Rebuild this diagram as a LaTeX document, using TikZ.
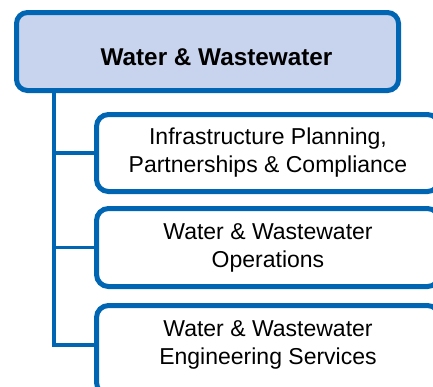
\documentclass[tikz,border=0pt]{standalone}
\usepackage{fontspec}
\setmainfont{Liberation Sans}
\definecolor{bblue}{RGB}{0,102,179}
\definecolor{lblue}{RGB}{200,212,238}
\begin{document}
\begin{tikzpicture}[x=1pt,y=-1pt,
  topbox/.style={draw=bblue,fill=lblue,line width=5pt,rounded corners=11pt,minimum width=382pt,minimum height=78pt,inner sep=0pt},
  childbox/.style={draw=bblue,fill=white,line width=5pt,rounded corners=12pt,minimum width=343pt,minimum height=77pt,inner sep=0pt,align=center,font=\fontsize{23}{28}\selectfont},
  childtext/.style={inner sep=0pt,align=center,font=\fontsize{23}{28}\selectfont},
  toptext/.style={font=\fontsize{24.3}{28}\selectfont\bfseries,inner sep=0pt},
  conn/.style={draw=bblue,line width=3.5pt}]
\path[use as bounding box] (0,0) rectangle (433,386);
\clip (0,0) rectangle (433,386);
\fill[white] (0,0) rectangle (433,386);
\coordinate (t) at (54,0);
\node[topbox] (top) at (207.5,51.5) {};
\node[toptext] (toplabel) at (216.5,57) {Water \& Wastewater};
\node[childbox] (c1) at (268,153) {Infrastructure Planning,\\Partnerships \& Compliance};
\node[childbox,minimum height=78pt] (c2) at (268,247.5) {Water \& Wastewater\\Operations};
\node[childbox,minimum height=89pt] (c3) at (268,350) {};
\node[childtext] (c3label) at (268,345) {Water \& Wastewater\\Engineering Services};
\draw[conn] (top.south -| t) -- (c3label.west -| t) -- (c3label.west -| c3.west);
\draw[conn] (c1.west -| t) -- (c1.west);
\draw[conn] (c2.west -| t) -- (c2.west);
\end{tikzpicture}
\end{document}
